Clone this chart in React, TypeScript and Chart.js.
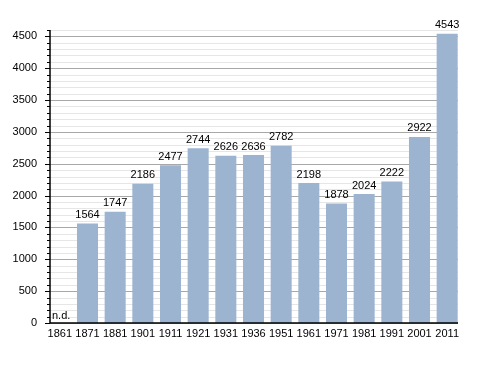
import React, { useEffect, useRef } from "react";
import { Chart, registerables } from "chart.js";

Chart.register(...registerables);

const years = ["1861", "1871", "1881", "1901", "1911", "1921", "1931", "1936", "1951", "1961", "1971", "1981", "1991", "2001", "2011"];
const population: (number | null)[] = [null, 1564, 1747, 2186, 2477, 2744, 2626, 2636, 2782, 2198, 1878, 2024, 2222, 2922, 4543];
const missingLabel = "n.d.";
const yMax = 4600;
const minorStep = 100;
const majorStep = 500;

const FONT = "'Liberation Sans', Arial, sans-serif";
const AXIS_X = 50;
const AXIS_END = 458;

const axesPlugin = {
  id: "customAxes",
  beforeDatasetsDraw(chart: any) {
    const ctx = chart.ctx;
    const y = chart.scales.y;
    ctx.save();
    for (let v = 0; v <= yMax; v += minorStep) {
      const py = Math.round(y.getPixelForValue(v)) + 0.5;
      ctx.strokeStyle = v % majorStep === 0 ? "#a8a8a8" : "#e6e6e6";
      ctx.lineWidth = 1;
      ctx.beginPath();
      ctx.moveTo(AXIS_X, py);
      ctx.lineTo(AXIS_END, py);
      ctx.stroke();
    }
    ctx.restore();
  },
  afterDatasetsDraw(chart: any) {
    const ctx = chart.ctx;
    const y = chart.scales.y;
    const bottom = y.getPixelForValue(0);
    const top = y.getPixelForValue(yMax);
    ctx.save();
    ctx.strokeStyle = "#000";
    ctx.lineWidth = 1.5;
    ctx.beginPath();
    ctx.moveTo(AXIS_X, top);
    ctx.lineTo(AXIS_X, bottom);
    ctx.lineTo(AXIS_END, bottom);
    ctx.stroke();
    ctx.lineWidth = 1;
    for (let v = 0; v <= yMax; v += minorStep) {
      const py = Math.round(y.getPixelForValue(v)) + 0.5;
      const len = v % majorStep === 0 ? 5 : 3;
      ctx.beginPath();
      ctx.moveTo(AXIS_X - len, py);
      ctx.lineTo(AXIS_X, py);
      ctx.stroke();
    }
    // value labels
    ctx.font = `11px ${FONT}`;
    ctx.fillStyle = "#000";
    ctx.textAlign = "center";
    ctx.textBaseline = "bottom";
    const meta = chart.getDatasetMeta(0);
    meta.data.forEach((bar: any, i: number) => {
      const v = population[i];
      if (v === null) {
        ctx.textAlign = "left";
        ctx.fillText(missingLabel, AXIS_X + 2, bottom - 2);
        ctx.textAlign = "center";
      } else {
        ctx.fillText(String(v), bar.x, bar.y - 3);
      }
    });
    ctx.restore();
  },
};

export default function App() {
  const ref = useRef<HTMLCanvasElement>(null);
  useEffect(() => {
    if (!ref.current) return;
    const chart = new Chart(ref.current, {
      type: "bar",
      data: {
        labels: years,
        datasets: [
          {
            data: population,
            backgroundColor: "#9cb4d0",
            categoryPercentage: 0.76,
            barPercentage: 1,
          },
        ],
      },
      options: {
        animation: false,
        responsive: false,
        layout: { padding: { top: 30, right: 27, left: 0, bottom: 0 } },
        plugins: { legend: { display: false }, tooltip: { enabled: false } },
        scales: {
          x: {
            afterFit: (s: any) => { s.height = 50; },
            grid: { display: false, drawTicks: false },
            border: { display: false },
            ticks: { color: "#000", font: { family: FONT, size: 11 }, padding: 4, maxRotation: 0, autoSkip: false },
          },
          y: {
            min: 0,
            max: yMax,
            afterFit: (s: any) => { s.width = 46; },
            border: { display: false },
            grid: { display: false, drawTicks: false },
            ticks: {
              stepSize: minorStep,
              autoSkip: false,
              color: "#000",
              font: { family: FONT, size: 11 },
              padding: 9,
              callback: (v: any) => (Number(v) % majorStep === 0 ? String(v) : ""),
            },
          },
        },
      },
      plugins: [axesPlugin],
    });
    return () => chart.destroy();
  }, []);
  return (
    <div style={{ position: "absolute", left: 0, top: 0, width: 488, height: 373, background: "#fff" }}>
      <canvas ref={ref} width={488} height={373} />
    </div>
  );
}
